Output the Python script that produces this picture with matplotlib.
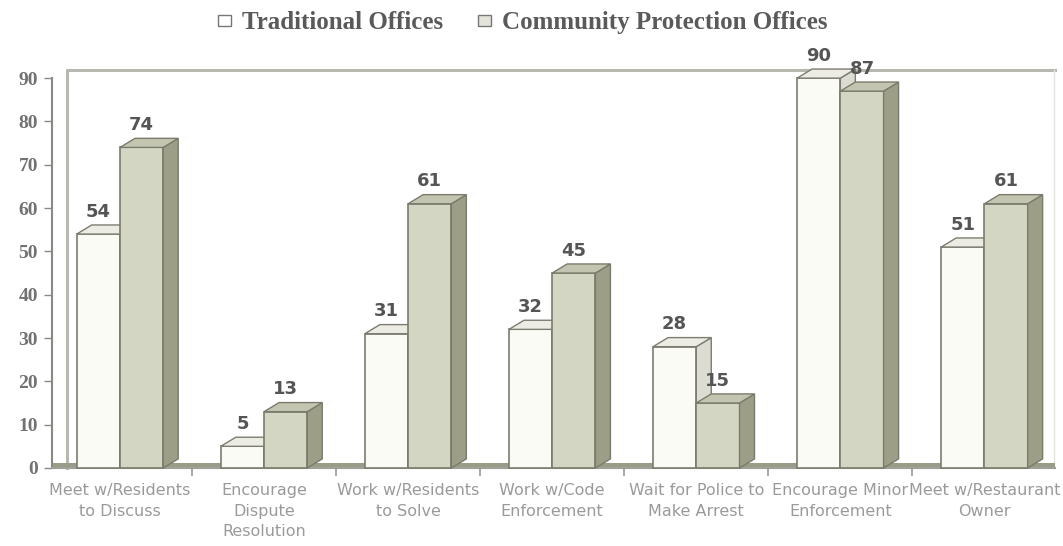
import matplotlib
matplotlib.use("Agg")
import numpy as np
import matplotlib.pyplot as plt
from matplotlib.patches import Patch

# ==========================================
# DATA
# ==========================================
categories = [
    "Meet w/Residents\nto Discuss",
    "Encourage\nDispute\nResolution",
    "Work w/Residents\nto Solve",
    "Work w/Code\nEnforcement",
    "Wait for Police to\nMake Arrest",
    "Encourage Minor\nEnforcement",
    "Meet w/Restaurant\nOwner",
]
traditional = [54, 5, 31, 32, 28, 90, 51]
community = [74, 13, 61, 45, 15, 87, 61]
series_names = ["Traditional Offices", "Community Protection Offices"]
yticks = list(range(0, 100, 10))

# ==========================================
# STYLE
# ==========================================
BAR_W = 0.30
DX = 0.104      # depth offset in x (data units)
DY = 2.1        # depth offset in y (data units)
XL, XR = -0.472, 6.49

WHITE = dict(front="#fbfbf6", side="#dcdcd2", top="#ececE4", edge="#7c7c72")
GRAY = dict(front="#d4d6c4", side="#9c9e88", top="#c3c5b0", edge="#7a7c6a")


def bar3d(ax, x, h, c):
    # front face
    ax.fill([x, x + BAR_W, x + BAR_W, x], [0, 0, h, h],
            facecolor=c["front"], edgecolor=c["edge"], lw=1.2, zorder=3,
            clip_on=False)
    # side face
    ax.fill([x + BAR_W, x + BAR_W + DX, x + BAR_W + DX, x + BAR_W],
            [0, DY, h + DY, h],
            facecolor=c["side"], edgecolor=c["edge"], lw=1.0, zorder=3,
            clip_on=False)
    # top face
    ax.fill([x, x + BAR_W, x + BAR_W + DX, x + DX],
            [h, h, h + DY, h + DY],
            facecolor=c["top"], edgecolor=c["edge"], lw=1.0, zorder=3,
            clip_on=False)


fig = plt.figure(figsize=(10.63, 5.46), dpi=100)
fig.patch.set_facecolor("white")
ax = fig.add_axes([0.0489, 0.1429, 0.9436, 0.714])
ax.set_xlim(XL, XR)
ax.set_ylim(0, 90)

# back wall and floor
ax.plot([XL + DX, XL + DX, XR], [0, 90 + DY * 0.85, 90 + DY * 0.85],
        color="#b8b8b0", lw=2.2, clip_on=False, zorder=1)
ax.plot([XR - 0.01, XR - 0.01], [0, 90 + DY * 0.85], color="#e4e4de",
        lw=1, clip_on=False, zorder=1)
ax.fill([XL, XR, XR, XL], [0, 0, 1.1, 1.1], facecolor="#9a9c88",
        edgecolor="none", zorder=2)

x = np.arange(len(categories))
for i in range(len(categories)):
    bar3d(ax, x[i] - BAR_W, traditional[i], WHITE)
    bar3d(ax, x[i], community[i], GRAY)
    ax.annotate(str(traditional[i]), (x[i] - BAR_W / 2, traditional[i] + DY),
                xytext=(0, 3), textcoords="offset points", ha="center",
                va="bottom", fontsize=13, fontweight="bold", color="#555555",
                zorder=5, annotation_clip=False)
    ax.annotate(str(community[i]), (x[i] + BAR_W / 2, community[i] + DY),
                xytext=(0, 3), textcoords="offset points", ha="center",
                va="bottom", fontsize=13, fontweight="bold", color="#555555",
                zorder=5, annotation_clip=False)

# axes
for s in ["top", "right"]:
    ax.spines[s].set_visible(False)
ax.spines["left"].set_color("#8a8a84")
ax.spines["left"].set_linewidth(1.5)
ax.spines["bottom"].set_color("#a0a09a")
ax.spines["bottom"].set_linewidth(1.5)

ax.set_yticks(yticks)
ax.set_yticklabels([str(t) for t in yticks], family="Liberation Serif",
                   fontweight="bold", fontsize=14, color="#727272")
ax.tick_params(axis="y", length=6, width=1, color="#8a8a84", pad=4)

ax.set_xticks(x)
ax.set_xticklabels(categories, fontsize=11.5, color="#9a9a9a",
                   linespacing=1.45, va="top")
ax.tick_params(axis="x", which="major", length=0, pad=11)
ax.set_xticks(x[:-1] + 0.5, minor=True)
ax.tick_params(axis="x", which="minor", length=6, width=1.2, color="#9a9a94")

# legend
handles = [Patch(facecolor="white", edgecolor="#777777", lw=1),
           Patch(facecolor="#e4e4da", edgecolor="#777777", lw=1)]
fig.legend(handles, series_names, loc="center", bbox_to_anchor=(0.492, 0.958),
           ncol=2, frameon=False, handlelength=0.5, handleheight=0.35,
           handletextpad=0.45, columnspacing=1.4,
           prop={"family": "Liberation Serif", "weight": "bold", "size": 18},
           labelcolor="#5a5a5a")

fig.savefig("out.png", dpi=100, facecolor="white")
